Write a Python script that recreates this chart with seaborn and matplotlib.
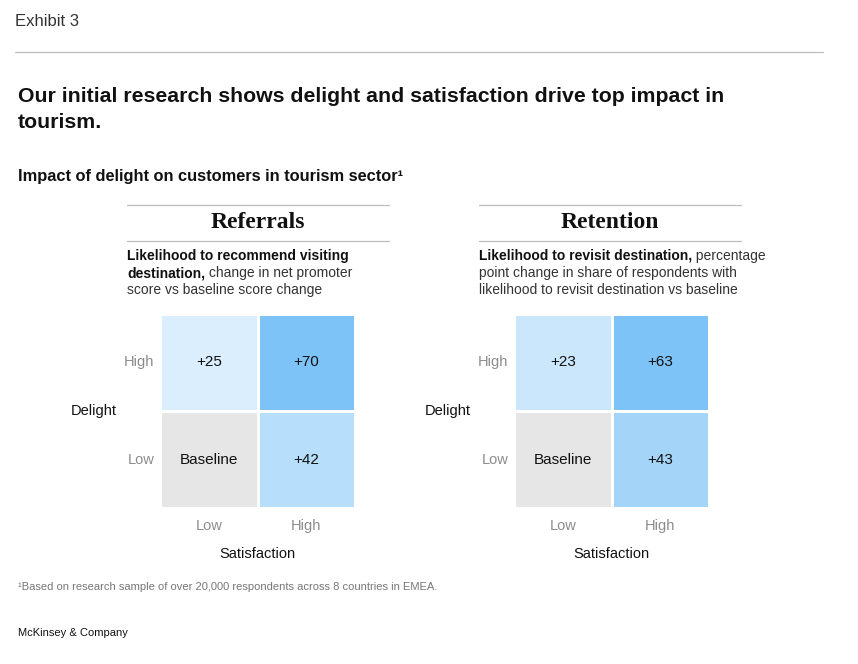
import numpy as np
import matplotlib
matplotlib.use("Agg")
import matplotlib.pyplot as plt
from matplotlib.colors import LinearSegmentedColormap
from matplotlib.lines import Line2D
import seaborn as sns

sns.set_style("white")
plt.rcParams["font.family"] = ["Liberation Sans", "DejaVu Sans"]

# -----------------------------------------------------------
# DATA
# -----------------------------------------------------------
delight_levels = ["High", "Low"]
satisfaction_levels = ["Low", "High"]
referrals_values = [[25, 70], [0, 42]]
retention_values = [[23, 63], [0, 43]]
referrals_labels = [["+25", "+70"], ["Baseline", "+42"]]
retention_labels = [["+23", "+63"], ["Baseline", "+43"]]

W, H = 858, 664
fig = plt.figure(figsize=(W / 100, H / 100), dpi=100)
fig.patch.set_facecolor("white")


def px(x, y):
    return x / W, 1 - y / H


def hline(x0, x1, y, color="#BDBDBD", lw=0.9):
    fig.add_artist(Line2D([x0 / W, x1 / W], [1 - y / H, 1 - y / H],
                          transform=fig.transFigure, color=color, lw=lw))


# header
fig.text(*px(15, 22), "Exhibit 3", fontsize=12, color="#333333", va="center")
hline(15, 823, 52)
fig.text(*px(18, 96), "Our initial research shows delight and satisfaction drive top impact in",
         fontsize=15.3, fontweight="bold", color="#111111", va="center")
fig.text(*px(18, 123), "tourism.", fontsize=15.3, fontweight="bold", color="#111111", va="center")
fig.text(*px(18, 176), "Impact of delight on customers in tourism sector\u00b9",
         fontsize=11.8, fontweight="bold", color="#111111", va="center")

cmap = LinearSegmentedColormap.from_list("delight", ["#E8F5FE", "#7EC3F7"])
cmap.set_under("#E6E6E6")

panels = [
    ("Referrals", referrals_values, referrals_labels, 127, 389, 160, 18,
     [[("Likelihood to recommend visiting", True)],
      [("destination,", True), (" change in net promoter", False)],
      [("score vs baseline score change", False)]]),
    ("Retention", retention_values, retention_labels, 479, 741, 514, 7,
     [[("Likelihood to revisit destination,", True), (" percentage", False)],
      [("point change in share of respondents with", False)],
      [("likelihood to revisit destination vs baseline", False)]]),
]

renderer = fig.canvas.get_renderer()

for title, values, labels, lx0, lx1, ax_left, vmin, desc in panels:
    hline(lx0, lx1, 205)
    hline(lx0, lx1, 241)
    fig.text(*px((lx0 + lx1) / 2, 223), title, fontsize=17, fontweight="bold",
             family=["Liberation Serif"], ha="center", va="center", color="#111111")

    # description with bold lead-in
    for i, line in enumerate(desc):
        x = lx0
        for chunk, bold in line:
            t = fig.text(*px(x, 256 + 17 * i), chunk, fontsize=10,
                         fontweight="bold" if bold else "normal",
                         color="#111111" if bold else "#333333", va="center")
            bb = t.get_window_extent(renderer)
            x += bb.width

    ax = fig.add_axes([ax_left / W, 1 - 508 / H, 195 / W, 194 / H])
    sns.heatmap(np.array(values, dtype=float), ax=ax, cmap=cmap, vmin=vmin + 0.001,
                vmax=np.max(values), annot=np.array(labels), fmt="", cbar=False,
                linewidths=1.0, linecolor="white",
                annot_kws={"fontsize": 11, "color": "#111111"},
                xticklabels=satisfaction_levels, yticklabels=delight_levels)
    ax.tick_params(axis="both", length=0, labelsize=10.5, labelcolor="#8C8C8C")
    ax.tick_params(axis="x", pad=8)
    ax.tick_params(axis="y", pad=4, labelrotation=0)
    ax.set_xlabel("Satisfaction", fontsize=10.5, color="#111111")
    ax.xaxis.set_label_coords(0.5, -0.2)
    ax.set_ylabel("Delight", fontsize=10.5, color="#111111", rotation=0,
                  ha="center", va="center")
    ax.yaxis.set_label_coords(-0.34, 0.5)
    for sp in ax.spines.values():
        sp.set_visible(False)

# footer
fig.text(*px(18, 587), "\u00b9Based on research sample of over 20,000 respondents across 8 countries in EMEA.",
         fontsize=8, color="#777777", va="center")
fig.text(*px(18, 633), "McKinsey & Company", fontsize=8, color="#111111", va="center")

fig.savefig("out.png", dpi=100, facecolor="white")
